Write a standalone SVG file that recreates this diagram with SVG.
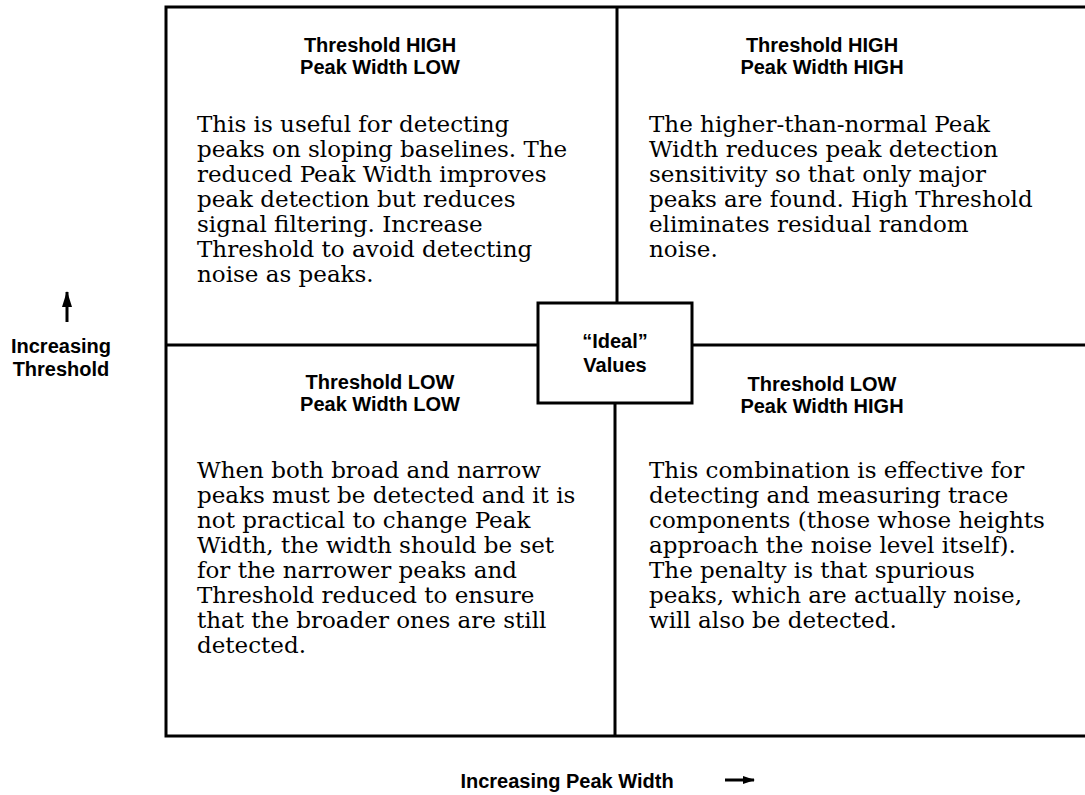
<svg xmlns="http://www.w3.org/2000/svg" width="1085" height="795" viewBox="0 0 1085 795">
<style>
.ln{stroke:#000;stroke-width:3;fill:none}
.hd{font-family:"Liberation Sans",Arial,sans-serif;font-weight:bold;font-size:20px;text-anchor:middle;fill:#000}
.bd{font-family:"DejaVu Serif",serif;font-size:23px;fill:#000}
</style>
<defs>
<marker id="au" markerWidth="16" markerHeight="10" refX="15" refY="5" orient="auto" markerUnits="userSpaceOnUse">
<path d="M0,0 L16,5 L0,10 Z" fill="#000"/>
</marker>
<marker id="ar" markerWidth="12" markerHeight="8" refX="11" refY="4" orient="auto" markerUnits="userSpaceOnUse">
<path d="M0,0 L12,4 L0,8 Z" fill="#000"/>
</marker>
</defs>
<rect width="1085" height="795" fill="#fff"/>
<g id="connectors">
<path class="ln" d="M1085,7 H166 V736 H1085"/>
<path class="ln" d="M617,7 V303"/>
<path class="ln" d="M615,403 V736"/>
<path class="ln" d="M166,345 H538"/>
<path class="ln" d="M692,345 H1085"/>
<path d="M67,322 V292" stroke="#000" stroke-width="3" marker-end="url(#au)"/>
<path d="M725,780 H754" stroke="#000" stroke-width="3" marker-end="url(#ar)"/>
</g>
<g id="q1">
<text class="hd" x="380" y="52">Threshold HIGH</text>
<text class="hd" x="380" y="74">Peak Width LOW</text>
<text class="bd"><tspan x="197" y="132">This is useful for detecting</tspan><tspan x="197" y="157">peaks on sloping baselines. The</tspan><tspan x="197" y="182">reduced Peak Width improves</tspan><tspan x="197" y="207">peak detection but reduces</tspan><tspan x="197" y="232">signal filtering. Increase</tspan><tspan x="197" y="257">Threshold to avoid detecting</tspan><tspan x="197" y="282">noise as peaks.</tspan></text>
</g>
<g id="q2">
<text class="hd" x="822" y="52">Threshold HIGH</text>
<text class="hd" x="822" y="74">Peak Width HIGH</text>
<text class="bd"><tspan x="649" y="132">The higher-than-normal Peak</tspan><tspan x="649" y="157">Width reduces peak detection</tspan><tspan x="649" y="182">sensitivity so that only major</tspan><tspan x="649" y="207">peaks are found. High Threshold</tspan><tspan x="649" y="232">eliminates residual random</tspan><tspan x="649" y="257">noise.</tspan></text>
</g>
<g id="q3">
<text class="hd" x="380" y="389">Threshold LOW</text>
<text class="hd" x="380" y="411">Peak Width LOW</text>
<text class="bd"><tspan x="197" y="478">When both broad and narrow</tspan><tspan x="197" y="503">peaks must be detected and it is</tspan><tspan x="197" y="528">not practical to change Peak</tspan><tspan x="197" y="553">Width, the width should be set</tspan><tspan x="197" y="578">for the narrower peaks and</tspan><tspan x="197" y="603">Threshold reduced to ensure</tspan><tspan x="197" y="628">that the broader ones are still</tspan><tspan x="197" y="653">detected.</tspan></text>
</g>
<g id="q4">
<text class="hd" x="822" y="391">Threshold LOW</text>
<text class="hd" x="822" y="413">Peak Width HIGH</text>
<text class="bd"><tspan x="649" y="478">This combination is effective for</tspan><tspan x="649" y="503">detecting and measuring trace</tspan><tspan x="649" y="528">components (those whose heights</tspan><tspan x="649" y="553">approach the noise level itself).</tspan><tspan x="649" y="578">The penalty is that spurious</tspan><tspan x="649" y="603">peaks, which are actually noise,</tspan><tspan x="649" y="628">will also be detected.</tspan></text>
</g>
<g id="ideal">
<rect x="538" y="303" width="154" height="100" fill="#fff" stroke="#000" stroke-width="3"/>
<text class="hd" x="615" y="348">“Ideal”</text>
<text class="hd" x="615" y="372">Values</text>
</g>
<g id="ylabel">
<text class="hd" x="61" y="353">Increasing</text>
<text class="hd" x="61" y="376">Threshold</text>
</g>
<g id="xlabel">
<text class="hd" x="567" y="788">Increasing Peak Width</text>
</g>
</svg>
